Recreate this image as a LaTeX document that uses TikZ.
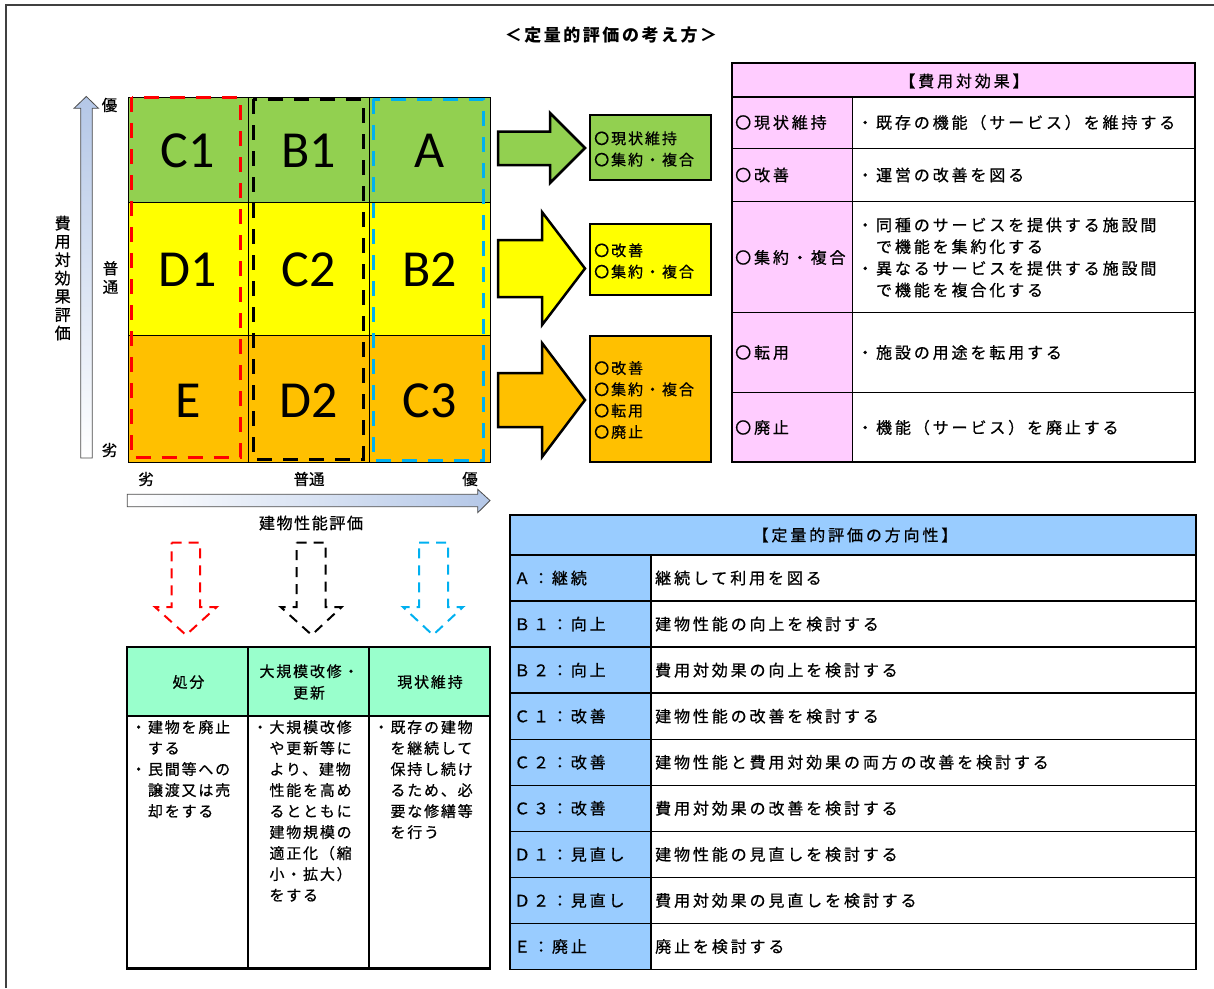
\documentclass[tikz,border=0pt]{standalone}
\usepackage{fontspec}
\setmainfont[FakeBold=0.7]{Noto Sans CJK JP}
\newfontfamily\latinbig{Carlito}
\newfontfamily\jpsp[LetterSpace=18,FakeBold=0.7]{Noto Sans CJK JP}
\newfontfamily\jpbx[LetterSpace=13,FakeBold=0.7]{Noto Sans CJK JP}
\newfontfamily\jpbl[LetterSpace=12,FakeBold=0.7]{Noto Sans CJK JP}
\newfontfamily\jpti[LetterSpace=15]{Noto Sans CJK JP}
\newfontfamily\jpax[LetterSpace=10,FakeBold=0.7]{Noto Sans CJK JP}
\definecolor{cgreen}{HTML}{92D050}
\definecolor{cyellow}{HTML}{FFFF00}
\definecolor{corange}{HTML}{FFC000}
\definecolor{cpink}{HTML}{FFCCFF}
\definecolor{cblue}{HTML}{99CCFF}
\definecolor{cmint}{HTML}{99FFCC}
\definecolor{dblue}{HTML}{00B0F0}
\definecolor{axisblue}{HTML}{B4C7E7}
\tikzset{
  big/.style={inner sep=0, font=\latinbig\fontsize{52}{52}\selectfont},
  tx/.style={inner sep=0, anchor=west, align=left, font=\jpsp\fontsize{16}{21.7}\selectfont},
  bx/.style={inner sep=0, anchor=west, align=left, font=\jpbx\fontsize{15}{21.3}\selectfont},
  bl/.style={inner sep=0, anchor=west, align=left, font=\jpbl\fontsize{15}{21}\selectfont},
  blh/.style={inner sep=0, align=center, font=\jpbl\fontsize{15}{21.5}\selectfont},
  ax/.style={inner sep=0, font=\fontsize{15.5}{18}\selectfont},
  tbl/.style={line width=1.4, black},
  blockarrow/.style={line width=2.5, black, line join=miter},
  boxst/.style={line width=2, black},
  zone/.style={line width=3, dash pattern=on 15 off 11},
  downarrow/.style={line width=2, dash pattern=on 10 off 7},
}
\begin{document}
\begin{tikzpicture}[x=1pt,y=-1pt]
\useasboundingbox (0,0) rectangle (1214,988);
% frame
\draw[line width=1.5, black!75] (6,988) -- (6,5) -- (1214,5);
% title
\node[inner sep=0, font=\jpti\bfseries\fontsize{17}{17}\selectfont] (title) at (611,35) {＜定量的評価の考え方＞};

% grid
\fill[cgreen] (128,97) rectangle (490,202);
\fill[cyellow] (128,202) rectangle (490,335.5);
\fill[corange] (128,335.5) rectangle (490,462.5);
\draw[line width=0.9] (128,97) rectangle (490,462.5)
  (248.5,97) -- (248.5,462.5) (369,97) -- (369,462.5)
  (128,202) -- (490,202) (128,335.5) -- (490,335.5);
\node[big] (c1) at (188,151) {C1};
\node[big] (b1) at (309,151) {B1};
\node[big] (a) at (429.5,151) {A};
\node[big] (d1) at (188,270) {D1};
\node[big] (c2) at (309,270) {C2};
\node[big] (b2) at (429.5,270) {B2};
\node[big] (e) at (188,400.5) {E};
\node[big] (d2) at (309,400.5) {D2};
\node[big] (c3) at (429.5,400.5) {C3};
% dashed zones
\draw[zone, red] (131.7,97.3) rectangle (240.5,457.3);
\draw[zone, black] (253,99) rectangle (363,459);
\draw[zone, dblue] (373,99.3) rectangle (483.5,460.5);

% axes
\shade[top color=axisblue, bottom color=white, draw=black!70, line width=0.8]
  (80.7,458) -- (80.7,108.3) -- (74,108.3) -- (86.3,96.5) -- (98.5,108.3) -- (92.3,108.3) -- (92.3,458) -- cycle;
\shade[left color=white, right color=axisblue, draw=black!70, line width=0.8]
  (127.3,494.3) -- (477.7,494.3) -- (477.7,489.3) -- (490,500.5) -- (477.7,512.7) -- (477.7,506.7) -- (127.3,506.7) -- cycle;
\node[ax] (ytop) at (109.5,105) {優};
\node[ax, align=center, font=\fontsize{15.5}{18.5}\selectfont] (ymid) at (110.5,277.5) {普\\通};
\node[ax] (ybot) at (109.5,450) {劣};
\node[inner sep=0, align=center, font=\fontsize{16}{18.3}\selectfont] (ylab) at (62.7,278) {費\\用\\対\\効\\果\\評\\価};
\node[ax] (xlow) at (146,479) {劣};
\node[ax] (xmid) at (309,479) {普通};
\node[ax] (xhigh) at (470,479) {優};
\node[inner sep=0, font=\jpax\fontsize{16}{16}\selectfont] (xlab) at (311,523) {建物性能評価};

% block arrows
\draw[blockarrow, fill=cgreen] (498,131.7) -- (550,131.7) -- (550,113) -- (585,148) -- (550,183) -- (550,165) -- (498,165) -- cycle;
\draw[blockarrow, fill=cyellow] (498,240) -- (542,240) -- (542,212) -- (585,268.5) -- (542,325) -- (542,297) -- (498,297) -- cycle;
\draw[blockarrow, fill=corange] (498,373) -- (542,373) -- (542,343) -- (585,400) -- (542,457) -- (542,427) -- (498,427) -- cycle;

% result boxes
\draw[boxst, fill=cgreen] (590,115) rectangle (711,180);
\draw[boxst, fill=cyellow] (590,224) rectangle (711,295);
\draw[boxst, fill=corange] (590,335.7) rectangle (711,461.7);
\node[bx] (g1) at (594,149) {〇現状維持\\〇集約・複合};
\node[bx] (y1) at (594,261) {〇改善\\〇集約・複合};
\node[bx] (o1) at (594,400) {〇改善\\〇集約・複合\\〇転用\\〇廃止};

% cost-effectiveness table
\fill[cpink] (732,63) rectangle (1195,97);
\fill[cpink] (732,97) rectangle (852.5,462);
\draw[tbl] (732,63) rectangle (1195,462);
\draw[tbl] (732,97) -- (1195,97) (732,148.3) -- (1195,148.3) (732,201.7) -- (1195,201.7)
  (732,312.7) -- (1195,312.7) (732,392.3) -- (1195,392.3) (852.5,97) -- (852.5,462);
\node[inner sep=0, font=\jpsp\fontsize{16}{16}\selectfont] (ceh) at (964,81) {【費用対効果】};
\node[tx] (cel1) at (735,122.5) {〇現状維持};
\node[tx] (cel2) at (735,175) {〇改善};
\node[tx] (cel3) at (735,257.5) {〇集約・複合};
\node[tx] (cel4) at (735,352.5) {〇転用};
\node[tx] (cel5) at (735,427.5) {〇廃止};
\node[tx] (cer1) at (857,122.5) {・既存の機能（サービス）を維持する};
\node[tx] (cer2) at (857,175) {・運営の改善を図る};
\node[tx] (cer3) at (857,257.5) {・同種のサービスを提供する施設間\\　で機能を集約化する\\・異なるサービスを提供する施設間\\　で機能を複合化する};
\node[tx] (cer4) at (857,352.5) {・施設の用途を転用する};
\node[tx] (cer5) at (857,427.5) {・機能（サービス）を廃止する};

% direction table
\fill[cblue] (510,515) rectangle (1196,555);
\fill[cblue] (510,555) rectangle (651,969.5);
\draw[tbl] (510,515) rectangle (1196,969.5);
\foreach \k in {0,...,8} {\draw[tbl] (510,{555+46.06*\k}) -- (1196,{555+46.06*\k});}
\draw[tbl] (651,555) -- (651,969.5);
\node[inner sep=0, font=\jpsp\fontsize{16}{16}\selectfont] (dh) at (855,535) {【定量的評価の方向性】};
\foreach \a/\b [count=\i from 0] in {Ａ：継続/継続して利用を図る, Ｂ１：向上/建物性能の向上を検討する, Ｂ２：向上/費用対効果の向上を検討する, Ｃ１：改善/建物性能の改善を検討する, Ｃ２：改善/建物性能と費用対効果の両方の改善を検討する, Ｃ３：改善/費用対効果の改善を検討する, Ｄ１：見直し/建物性能の見直しを検討する, Ｄ２：見直し/費用対効果の見直しを検討する, Ｅ：廃止/廃止を検討する} {
  \node[tx] (dl\i) at (514,{578+46.06*\i}) {\a};
  \node[tx] (dr\i) at (655,{578+46.06*\i}) {\b};
}

% dashed down arrows
\draw[downarrow, red] (171.7,542.7) -- (200,542.7) -- (200,607) -- (216.7,607) -- (186,635) -- (155,607) -- (171.7,607) -- cycle;
\draw[downarrow, black] (296.7,542.7) -- (325.7,542.7) -- (325.7,607) -- (341.7,607) -- (311.7,635) -- (280.7,607) -- (296.7,607) -- cycle;
\draw[downarrow, dblue] (419,542.7) -- (448,542.7) -- (448,607) -- (463,607) -- (433,635) -- (403,607) -- (419,607) -- cycle;

% policy table
\fill[cmint] (127,647) rectangle (490,716);
\draw[line width=2] (127,716) -- (490,716) (248,647) -- (248,968.5) (369,647) -- (369,968.5);
\draw[line width=2.3] (127,647) rectangle (490,968.5);
\node[blh] (p1h) at (188.5,682) {処分};
\node[blh] (p2h) at (309,682) {大規模改修・\\更新};
\node[blh] (p3h) at (430,682) {現状維持};
\node[bl, anchor=north west] (p1b) at (131,720) {・建物を廃止\\　する\\・民間等への\\　譲渡又は売\\　却をする};
\node[bl, anchor=north west] (p2b) at (252.5,720) {・大規模改修\\　や更新等に\\　より、建物\\　性能を高め\\　るとともに\\　建物規模の\\　適正化（縮\\　小・拡大）\\　をする};
\node[bl, anchor=north west] (p3b) at (373.5,720) {・既存の建物\\　を継続して\\　保持し続け\\　るため、必\\　要な修繕等\\　を行う};
\end{tikzpicture}
\end{document}
